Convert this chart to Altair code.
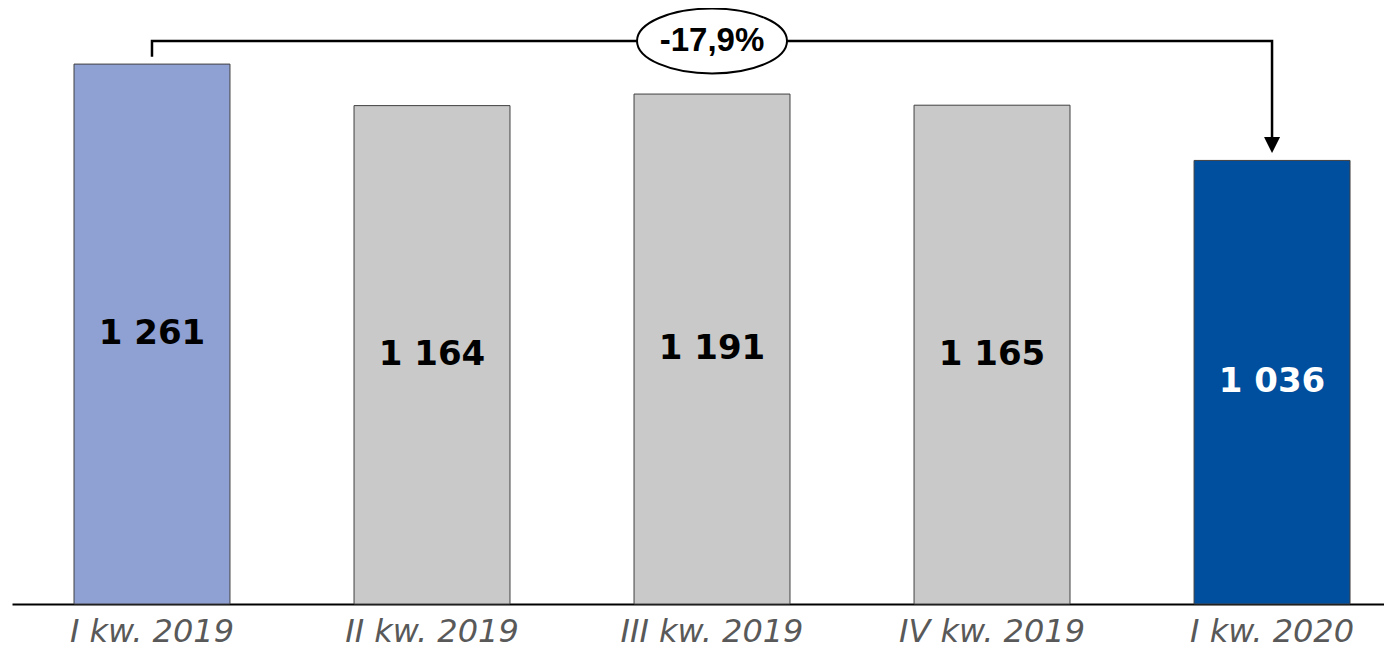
import altair as alt
import pandas as pd

categories = ["I kw. 2019", "II kw. 2019", "III kw. 2019", "IV kw. 2019", "I kw. 2020"]
values = [1261, 1164, 1191, 1165, 1036]
bar_colors = ["#8FA0D2", "#C9C9C9", "#C9C9C9", "#C9C9C9", "#004E9E"]
label_colors = ["#000000", "#000000", "#000000", "#000000", "#FFFFFF"]
change_label = "-17,9%"

# bracket annotation (data units)
bracket_level = 1315
bracket_start = 1278
bracket_end = 1091
arrow_center = 1072

df = pd.DataFrame({
    "cat": categories,
    "value": values,
    "label": [f"{v:,}".replace(",", " ") for v in values],
    "color": bar_colors,
    "tcolor": label_colors,
})

xscale = alt.Scale(domain=categories, paddingInner=0.443, paddingOuter=0.1714, align=0.646)
yscale = alt.Scale(domain=[0, 1392], nice=False, zero=True)

x_enc = alt.X("cat:N", sort=categories, scale=xscale,
              axis=alt.Axis(title=None, labelAngle=0, ticks=False, grid=False,
                            domainColor="#000000", domainWidth=2,
                            labelFont="DejaVu Sans", labelFontStyle="italic",
                            labelFontSize=32, labelColor="#595959", labelPadding=12,
                            labelLimit=400))

bars = alt.Chart(df).mark_bar(stroke="#404040", strokeWidth=1).encode(
    x=x_enc,
    y=alt.Y("value:Q", scale=yscale, axis=None),
    fill=alt.Fill("color:N", scale=None),
)

texts = alt.Chart(df).transform_calculate(mid="datum.value / 2").mark_text(
    font="DejaVu Sans", fontWeight="bold", fontSize=34, baseline="middle", align="center"
).encode(
    x=alt.X("cat:N", sort=categories, scale=xscale),
    y=alt.Y("mid:Q", scale=yscale),
    text="label:N",
    color=alt.Color("tcolor:N", scale=None),
)

bracket_df = pd.DataFrame({
    "cat": [categories[0], categories[0], categories[-1], categories[-1]],
    "y": [bracket_start, bracket_level, bracket_level, bracket_end],
    "o": [0, 1, 2, 3],
})
bracket = alt.Chart(bracket_df).mark_line(color="#000000", strokeWidth=2.5, strokeJoin="miter").encode(
    x=alt.X("cat:N", sort=categories, scale=xscale),
    y=alt.Y("y:Q", scale=yscale),
    order="o:Q",
)

arrow_df = pd.DataFrame({"cat": [categories[-1]], "y": [arrow_center]})
arrow = alt.Chart(arrow_df).mark_point(
    shape="M0,1L-1,-1L1,-1Z", filled=True, color="#000000", opacity=1, size=256, strokeWidth=0
).encode(
    x=alt.X("cat:N", sort=categories, scale=xscale),
    y=alt.Y("y:Q", scale=yscale),
)

ell_df = pd.DataFrame({"cat": [categories[2]], "y": [bracket_level], "t": [change_label]})
ellipse = alt.Chart(ell_df).mark_point(
    shape="M-1,0A1,0.433 0 1,1 1,0A1,0.433 0 1,1 -1,0Z",
    size=22500, filled=False, fill="#FFFFFF", fillOpacity=1, stroke="#000000", strokeWidth=2, opacity=1
).encode(
    x=alt.X("cat:N", sort=categories, scale=xscale),
    y=alt.Y("y:Q", scale=yscale),
)
ell_text = alt.Chart(ell_df).mark_text(
    font="Liberation Sans", fontWeight="bold", fontSize=33, baseline="middle", align="center", color="#000000"
).encode(
    x=alt.X("cat:N", sort=categories, scale=xscale),
    y=alt.Y("y:Q", scale=yscale),
    text="t:N",
)

chart = alt.layer(bars, texts, bracket, arrow, ellipse, ell_text).properties(
    width=1372, height=596,
    autosize=alt.AutoSizeParams(type="none"),
    padding={"left": 4, "top": 0, "right": 0, "bottom": 46},
).configure_view(stroke=None)

chart.save("out.html", embed_options={"renderer": "svg", "actions": False})
